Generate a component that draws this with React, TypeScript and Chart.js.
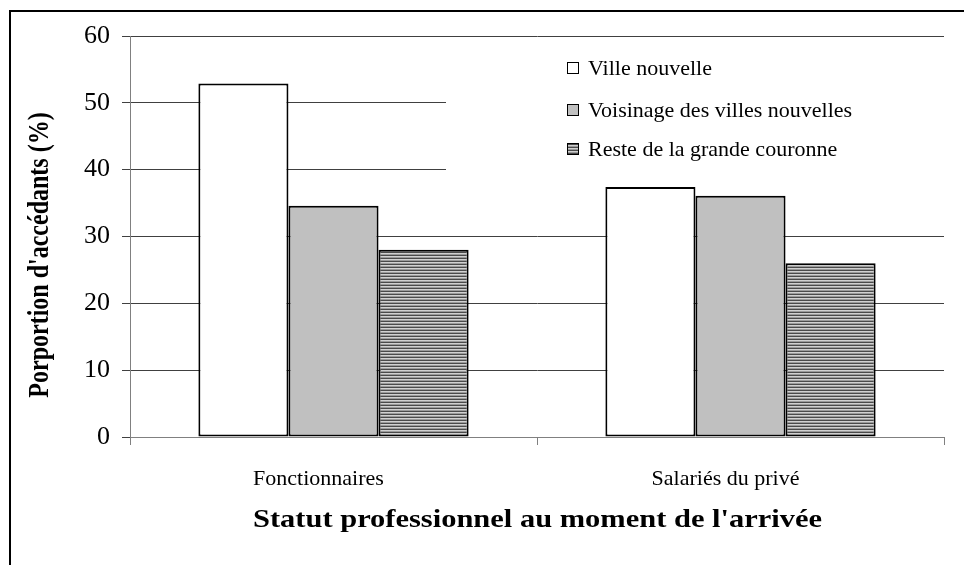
import React, { useEffect, useRef } from "react";
import { Chart, registerables } from "chart.js";

Chart.register(...registerables);

const categories = ["Fonctionnaires", "Salariés du privé"];
const seriesNames = ["Ville nouvelle", "Voisinage des villes nouvelles", "Reste de la grande couronne"];
const villeNouvelle = [52.9, 37.4];
const voisinage = [34.6, 36.1];
const resteCouronne = [28.0, 26.0];
const yTicks = [0, 10, 20, 30, 40, 50, 60];
const yTitle = "Porportion d'accédants (%)";
const xTitle = "Statut professionnel au moment de l'arrivée";

const SERIF = "'Liberation Serif', 'Times New Roman', serif";

function makeStripePattern(): CanvasPattern | string {
  const c = document.createElement("canvas");
  c.width = 4;
  c.height = 3;
  const g = c.getContext("2d");
  if (!g) return "#888";
  g.fillStyle = "#4a4a4a";
  g.fillRect(0, 0, 4, 1);
  g.fillStyle = "#d0d0d0";
  g.fillRect(0, 1, 4, 1);
  g.fillStyle = "#9a9a9a";
  g.fillRect(0, 2, 4, 1);
  const p = g.createPattern(c, "repeat");
  return p || "#888";
}

export default function App() {
  const ref = useRef<HTMLCanvasElement | null>(null);
  useEffect(() => {
    if (!ref.current) return;
    const stripes = makeStripePattern();
    const fills: (string | CanvasPattern)[] = ["#ffffff", "#c0c0c0", stripes];

    const decor = {
      id: "decor",
      beforeDatasetsDraw(chart: any) {
        const ctx = chart.ctx;
        const area = chart.chartArea;
        ctx.save();
        ctx.fillStyle = "#ffffff";
        ctx.fillRect(446, 40, area.right - 446 + 1, 142);
        ctx.restore();
      },
      afterDraw(chart: any) {
        const ctx = chart.ctx;
        ctx.save();
        // outer frame
        ctx.strokeStyle = "#000";
        ctx.lineWidth = 2;
        ctx.strokeRect(10, 11, 1000, 1000);
        // legend
        const rows = [68, 110, 149];
        ctx.font = `22px ${SERIF}`;
        ctx.textBaseline = "middle";
        ctx.textAlign = "left";
        seriesNames.forEach((name, i) => {
          const y = rows[i];
          ctx.fillStyle = fills[i] as any;
          ctx.fillRect(567, y - 6, 12, 12);
          ctx.strokeStyle = "#000";
          ctx.lineWidth = 1;
          ctx.strokeRect(567.5, y - 5.5, 11, 11);
          ctx.fillStyle = "#000";
          ctx.fillText(name, 588, y + 1);
        });
        // x axis title (horizontally widened like the reference)
        ctx.font = `bold 25px ${SERIF}`;
        ctx.textAlign = "left";
        const target = 569;
        const w = ctx.measureText(xTitle).width;
        const sx = target / w;
        ctx.save();
        ctx.translate(253, 521);
        ctx.scale(sx, 1);
        ctx.fillText(xTitle, 0, 0);
        ctx.restore();
        // y axis title
        ctx.font = `bold 24px ${SERIF}`;
        ctx.textAlign = "center";
        ctx.translate(40, 255);
        ctx.rotate(-Math.PI / 2);
        ctx.scale(1, 1.25);
        ctx.fillText(yTitle, 0, 0);
        ctx.restore();
      },
    };

    const chart = new Chart(ref.current, {
      type: "bar",
      data: {
        labels: categories,
        datasets: [
          { label: seriesNames[0], data: villeNouvelle, backgroundColor: fills[0] as any },
          { label: seriesNames[1], data: voisinage, backgroundColor: fills[1] as any },
          { label: seriesNames[2], data: resteCouronne, backgroundColor: fills[2] as any },
        ].map((d) => ({
          ...d,
          borderColor: "#000",
          borderWidth: 2,
          borderSkipped: false as const,
          barPercentage: 1,
          categoryPercentage: 0.664,
        })),
      },
      options: {
        animation: false,
        responsive: false,
        devicePixelRatio: 1,
        layout: { padding: { left: 10, right: 20, top: 36, bottom: 0 } },
        plugins: { legend: { display: false }, tooltip: { enabled: false }, title: { display: false } },
        scales: {
          x: {
            offset: true,
            grid: { display: true, drawOnChartArea: false, offset: true, tickLength: 8, color: "#808080", lineWidth: 1 },
            border: { display: true, color: "#808080", width: 1 },
            ticks: { color: "#000", font: { family: SERIF, size: 22 }, padding: 21, labelOffset: -15 },
            afterFit: (s: any) => { s.height = 128; },
          },
          y: {
            min: 0,
            max: 60,
            afterBuildTicks: (s: any) => { s.ticks = yTicks.map((v) => ({ value: v })); },
            grid: { color: "#404040", lineWidth: 1, tickLength: 8 },
            border: { display: true, color: "#808080", width: 1 },
            ticks: { color: "#000", font: { family: SERIF, size: 26 }, padding: 12 },
            afterFit: (s: any) => { s.width = 120; },
          },
        },
      },
      plugins: [decor],
    });
    return () => chart.destroy();
  }, []);
  return (
    <div style={{ position: "absolute", left: 0, top: 0, width: 964, height: 565, background: "#fff" }}>
      <canvas ref={ref} width={964} height={565} style={{ display: "block" }} />
    </div>
  );
}
